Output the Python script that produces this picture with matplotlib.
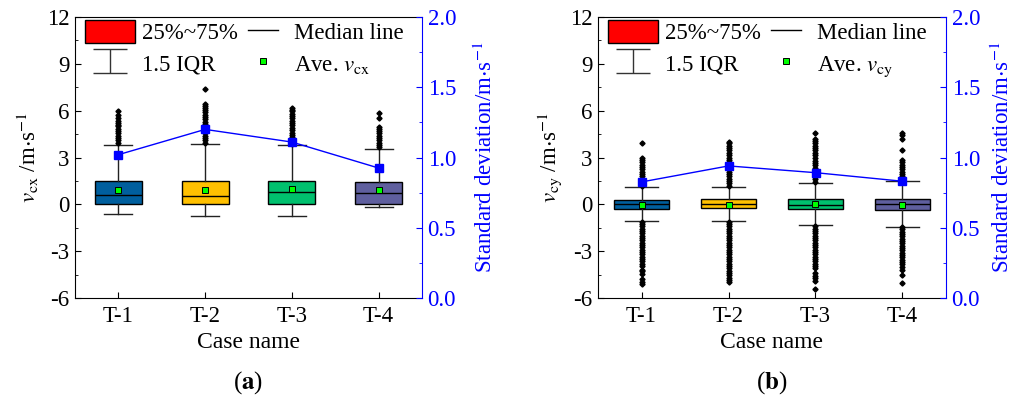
import matplotlib
matplotlib.use("Agg")
import numpy as np
import matplotlib.pyplot as plt
from matplotlib.patches import Patch
from matplotlib.lines import Line2D
from matplotlib.container import ErrorbarContainer
from matplotlib.legend_handler import HandlerErrorbar
from matplotlib.ticker import MultipleLocator

plt.rcParams['font.family'] = ['Liberation Serif', 'DejaVu Serif']
plt.rcParams['mathtext.fontset'] = 'stix'
plt.rcParams['axes.unicode_minus'] = False

cases = ['T-1', 'T-2', 'T-3', 'T-4']
box_colors = ['#005F9E', '#FFC000', '#00C06E', '#5F5F9E']

# Panel (a): v_cx
a_q1 = [0.0, 0.0, 0.0, 0.04]
a_q3 = [1.47, 1.47, 1.47, 1.41]
a_med = [0.62, 0.51, 0.77, 0.73]
a_lo = [-0.62, -0.72, -0.72, -0.2]
a_hi = [3.8, 3.84, 3.78, 3.55]
a_mean = [0.92, 0.95, 0.99, 0.94]
a_std = [1.02, 1.2, 1.11, 0.925]
a_fliers = [
    [3.95, 4.1, 4.25, 4.4, 4.55, 4.7, 4.85, 5.0, 5.1, 5.2, 5.35, 5.5, 5.72, 5.95],
    [3.95, 4.1, 4.25, 4.4, 4.55, 4.7, 4.85, 5.0, 5.15, 5.3, 5.45, 5.6, 5.75,
     5.9, 6.05, 6.2, 6.3, 6.45, 7.4],
    [3.85, 4.0, 4.15, 4.3, 4.45, 4.6, 4.75, 4.9, 5.05, 5.2, 5.35, 5.5, 5.65,
     5.8, 5.95, 6.05, 6.17],
    [3.65, 3.8, 3.95, 4.1, 4.25, 4.4, 4.55, 4.7, 4.85, 4.95, 5.5, 5.85],
]

# Panel (b): v_cy
b_q1 = [-0.28, -0.26, -0.32, -0.36]
b_q3 = [0.28, 0.32, 0.36, 0.36]
b_med = [0.0, 0.0, -0.04, 0.0]
b_lo = [-1.07, -1.07, -1.35, -1.43]
b_hi = [1.13, 1.13, 1.39, 1.47]
b_mean = [-0.03, -0.03, 0.0, -0.03]
b_std = [0.826, 0.94, 0.892, 0.831]
b_fliers = [
    [1.2, 1.35, 1.5, 1.65, 1.8, 1.95, 2.1, 2.25, 2.4, 2.55, 2.7, 2.85, 3.0, 3.9,
     -1.1, -1.25, -1.4, -1.55, -1.7, -1.85, -2.0, -2.15, -2.3, -2.45, -2.6,
     -2.75, -2.9, -3.05, -3.2, -3.35, -3.5, -3.65, -3.8, -3.95, -4.2, -4.3,
     -4.45, -4.8, -4.95, -5.1],
    [1.2, 1.35, 1.5, 1.65, 1.8, 1.95, 2.1, 2.25, 2.4, 2.55, 2.7, 2.85, 3.0,
     3.15, 3.3, 3.45, 3.6, 3.75, 3.9, 4.0,
     -1.1, -1.25, -1.4, -1.55, -1.7, -1.85, -2.0, -2.15, -2.3, -2.45, -2.6,
     -2.75, -2.9, -3.05, -3.2, -3.35, -3.5, -3.65, -3.8, -3.95, -4.1, -4.25,
     -4.4, -4.55, -4.7, -4.85, -4.95],
    [1.45, 1.6, 1.75, 1.9, 2.05, 2.2, 2.35, 2.5, 2.65, 2.8, 3.0, 3.15, 3.3, 3.45,
     3.6, 3.75, 3.9, 4.05, 4.2, 4.6,
     -1.4, -1.55, -1.7, -1.85, -2.0, -2.15, -2.3, -2.45, -2.6, -2.75, -2.9,
     -3.05, -3.2, -3.35, -3.5, -3.65, -3.8, -3.95, -4.1, -4.4, -4.6, -4.75,
     -4.9, -5.45],
    [1.5, 1.65, 1.8, 1.95, 2.1, 2.25, 2.4, 2.55, 2.7, 2.85, 3.45, 4.2, 4.45, 4.55,
     -1.45, -1.6, -1.75, -1.9, -2.05, -2.2, -2.35, -2.5, -2.65, -2.8, -2.95,
     -3.1, -3.25, -3.4, -3.55, -3.7, -3.85, -4.0, -4.2, -4.5, -5.05],
]

FS = 16.5
BLUE = '#0000FF'

fig = plt.figure(figsize=(10.2, 3.99), dpi=100)


def panel(rect, q1, q3, med, lo, hi, mean, std, fliers, sub, letter,
          bw, cw, rpad):
    ax = fig.add_axes(rect)
    stats = []
    for i in range(len(cases)):
        stats.append(dict(med=med[i], q1=q1[i], q3=q3[i], whislo=lo[i],
                          whishi=hi[i], mean=mean[i], fliers=fliers[i],
                          label=cases[i]))
    positions = list(range(1, len(cases) + 1))
    bp = ax.bxp(stats, positions=positions, widths=bw, patch_artist=True,
                showmeans=True, showfliers=True,
                boxprops=dict(edgecolor='black', linewidth=1.0),
                medianprops=dict(color='black', linewidth=1.0),
                whiskerprops=dict(color='#222222', linewidth=1.0),
                capprops=dict(color='#222222', linewidth=1.0),
                capwidths=cw,
                meanprops=dict(marker='s', markerfacecolor='#00FF00',
                               markeredgecolor='black', markersize=4.5,
                               markeredgewidth=0.7),
                flierprops=dict(marker='D', markerfacecolor='black',
                                markeredgecolor='black', markersize=2.6))
    for patch, c in zip(bp['boxes'], box_colors):
        patch.set_facecolor(c)
    ax.set_xlim(0.5, 4.5)
    ax.set_ylim(-6, 12)
    ax.yaxis.set_major_locator(MultipleLocator(3))
    ax.yaxis.set_minor_locator(MultipleLocator(1.5))
    ax.tick_params(axis='y', which='both', direction='in', labelsize=FS, pad=4)
    ax.tick_params(axis='y', which='major', length=4)
    ax.tick_params(axis='y', which='minor', length=2.5)
    ax.tick_params(axis='x', direction='in', length=4, labelsize=FS, pad=6)
    ax.set_xticks(positions)
    ax.set_xticklabels(cases)
    ax.spines['right'].set_visible(False)
    ax.set_xlabel('Case name', fontsize=FS + 0.5, labelpad=3)
    ax.set_ylabel(r'$v_{\rm %s}$ /m$\cdot$s$^{-1}$' % sub, fontsize=FS,
                  labelpad=4)

    ax2 = ax.twinx()
    ax2.plot(positions, std, color=BLUE, linewidth=1.0, marker='s',
             markersize=5.2, markerfacecolor=BLUE, markeredgecolor=BLUE)
    ax2.set_ylim(0, 2.0)
    ax2.yaxis.set_major_locator(MultipleLocator(0.5))
    ax2.yaxis.set_minor_locator(MultipleLocator(0.25))
    ax2.yaxis.set_major_formatter(plt.FormatStrFormatter('%.1f'))
    ax2.tick_params(axis='y', which='both', direction='in', colors=BLUE,
                    labelsize=FS, pad=4)
    ax2.tick_params(axis='y', which='major', length=4)
    ax2.tick_params(axis='y', which='minor', length=2.5)
    for s in ['left', 'top', 'bottom']:
        ax2.spines[s].set_visible(False)
    ax2.spines['right'].set_color(BLUE)
    ax2.set_ylabel(r'Standard deviation/m$\cdot$s$^{-1}$', color=BLUE,
                   fontsize=FS, labelpad=rpad)

    eb = ax.errorbar([np.nan], [np.nan], yerr=[1.0], fmt='none',
                     ecolor='#333333', elinewidth=1.0, capsize=12,
                     capthick=1.0)
    h_box = Patch(facecolor='#FF0000', edgecolor='black', linewidth=1.0)
    h_med = Line2D([], [], color='black', linewidth=1.0)
    h_mean = Line2D([], [], linestyle='none', marker='s', markersize=4.5,
                    markerfacecolor='#00FF00', markeredgecolor='black',
                    markeredgewidth=0.7)
    w = rect[2] * 1020
    h = rect[3] * 399
    leg1 = ax2.legend([h_box, eb], ['25%~75%', '1.5 IQR'],
                      loc='upper left', bbox_to_anchor=(10 / w, 1 - 3 / h),
                      frameon=False, fontsize=FS,
                      handlelength=2.2, handleheight=1.15, handletextpad=0.3,
                      labelspacing=0.32, borderaxespad=0, borderpad=0,
                      handler_map={ErrorbarContainer:
                                   HandlerErrorbar(xerr_size=0.37,
                                                   yerr_size=0.52)})
    ax2.add_artist(leg1)
    ax2.legend([h_med, h_mean], ['Median line', r'Ave. $v_{\rm %s}$' % sub],
               loc='upper left', bbox_to_anchor=(173 / w, 1 - 3 / h),
               frameon=False, fontsize=FS,
               handlelength=1.3, handleheight=1.15, handletextpad=0.72,
               labelspacing=0.32, borderaxespad=0, borderpad=0)
    ax.text(0.5, -0.255, r'($\mathbf{%s}$)' % letter, transform=ax.transAxes,
            ha='center', va='top', fontsize=FS + 1.5)
    return ax


panel([75 / 1020, 101 / 399, 347 / 1020, 281 / 399], a_q1, a_q3, a_med, a_lo,
      a_hi, a_mean, a_std, a_fliers, 'cx', 'a', 0.54, 0.32, 13)
panel([598 / 1020, 101 / 399, 348 / 1020, 281 / 399], b_q1, b_q3, b_med, b_lo,
      b_hi, b_mean, b_std, b_fliers, 'cy', 'b', 0.64, 0.38, 8)

fig.savefig('out.png', dpi=100)
